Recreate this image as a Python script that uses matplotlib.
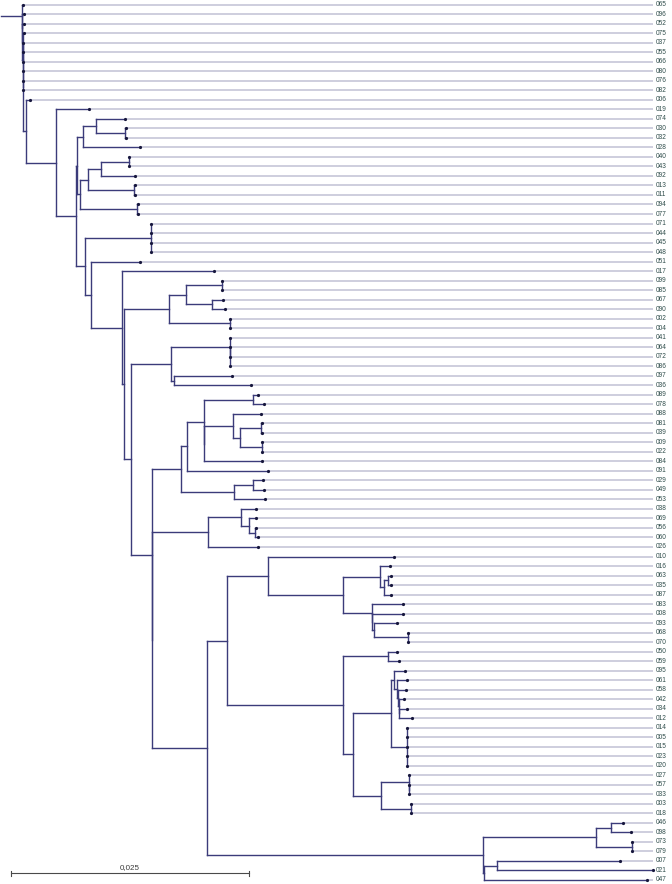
import re
import matplotlib
matplotlib.use("Agg")
import matplotlib.pyplot as plt
from matplotlib.collections import LineCollection
import matplotlib.transforms as mtransforms

# ---------------- data: tree in Newick pieces (branch lengths in substitutions/site) -------------
ROOT_CLADE = "(065:0.00009,(096:0.00016,(052:0.00016,(075:0.00012,(037:0,055:0,066:0,080:0,076:0,082:0,<N1>:0.00032):0.00001):0.00001):0.00003):0.00004)"
N1_CLADE = "(006:0.00045,(019:0.00350,(<B>:0.00011,<K85>:0.00098):0.00213):0.00315)"
B_CLADE = ("(((074:0.00305,(030:0.00004,032:0.00004):0.00308):0.00137,028:0.00599):0.00063,"
           "((((040:0.00006,043:0.00006):0.00291,092:0.00354):0.00137,(013:0.00007,011:0.00007):0.00483):0.00084,"
           "(094:0.00007,077:0.00007):0.00599):0.00032)")
K85_CLADE = "((071:0,044:0,045:0,048:0):0.00687,(051:0.00521,(017:0.00970,(<N169>:0.00473,<F>:0.00070):0.00024):0.00326):0.00057)"
N169_CLADE = "(((099:0.00006,085:0.00006):0.00375,(067:0.00116,090:0.00140):0.00273):0.00179,(002:0.00003,004:0.00003):0.00638)"
F_CLADE = "(((041:0,(064:0,072:0,086:0):0):0.00617,(097:0.00612,036:0.00806):0.00032):0.00423,(<N181>:0.00301,<G1>:0):0.00227)"
N181_CLADE = ("((((089:0.00059,078:0.00119):0.00512,((088:0.00288,((081:0.00007,039:0.00007):0.00221,"
              "(009:0.00006,022:0.00006):0.00228):0.00070):0.00308,084:0.00612):0):0.00182,091:0.00851):0.00060,"
              "((029:0.00099,049:0.00116):0.00203,053:0.00326):0.00557)")
G1_CLADE = "(((038:0.00161,(069:0.00070,(056:0.00002,060:0.00025):0.00063):0.00090):0.00347,026:0.00525):0.00582,(<N226>:0.00210,<M>:0.02899):0.00571)"
N226_CLADE = ("((010:0.01330,((016:0.00105,((063:0.00035,035:0.00035):0.00036,087:0.00067):0.00045):0.00386,"
              "(083:0.00332,(008:0.00332,(093:0.00242,(068:0.00003,070:0.00003):0.00354):0.00027):0):0.00298):0.00794):0.00431,"
              "((050:0.00095,059:0.00119):0.00473,<N353>:0.00111):0.01218)")
N353_CLADE = ("(((095:0.00116,(061:0.00105,(058:0.00081,(042:0.00056,(034:0.00078,012:0.00130):0.00003):0.00007):0.00017):0.00028):0.00035,"
              "(014:0,005:0,015:0,023:0,020:0):0.00174):0.00393,"
              "((027:0,(057:0,033:0):0):0.00294,(003:0.00003,018:0.00003):0.00312):0.00291)")
M_CLADE = "(((046:0.00132,098:0.00213):0.00158,(073:0.00003,079:0.00003):0.00381):0.01187,((007:0.01295,021:0.01645):0.00133,047:0.01715):0.00014)"

ROOT_STUB = 0.00218
SCALE_VALUE = 0.025
SCALE_LABEL = "0,025"

# ---------------- assemble & parse -------------
pieces = {"N1": N1_CLADE, "B": B_CLADE, "K85": K85_CLADE, "N169": N169_CLADE, "F": F_CLADE,
          "N181": N181_CLADE, "G1": G1_CLADE, "N226": N226_CLADE, "N353": N353_CLADE, "M": M_CLADE}
newick = ROOT_CLADE
for _ in range(20):
    for k, v in pieces.items():
        newick = newick.replace("<" + k + ">", v)
newick += ";"


def parse(s):
    pos = 0

    def node():
        nonlocal pos
        children = []
        if s[pos] == "(":
            pos += 1
            while True:
                children.append(node())
                if s[pos] == ",":
                    pos += 1
                    continue
                if s[pos] == ")":
                    pos += 1
                    break
                raise ValueError("bad newick at %d: %r" % (pos, s[pos - 10:pos + 10]))
        m = re.match(r"[^:,();]*", s[pos:])
        name = m.group(0)
        pos += len(name)
        length = 0.0
        if pos < len(s) and s[pos] == ":":
            pos += 1
            m = re.match(r"[0-9.eE+-]+", s[pos:])
            length = float(m.group(0))
            pos += len(m.group(0))
        return {"name": name, "length": length, "children": children}

    return node()


tree = parse(newick)
leaves = []


def layout(n, depth):
    n["x"] = depth
    if not n["children"]:
        n["y"] = len(leaves)
        leaves.append(n)
    else:
        for c in n["children"]:
            layout(c, depth + c["length"])
        n["y"] = (n["children"][0]["y"] + n["children"][-1]["y"]) / 2.0


layout(tree, 0.0)

# ---------------- figure -------------
W, H, DPI = 672, 884, 100
PX_PER_UNIT = 9520.0
ROOT_PX = 21.8
ROW0_PX, ROW_PX = 4.7, 9.514

fig = plt.figure(figsize=(W / DPI, H / DPI), dpi=DPI)
ax = fig.add_axes([0, 0, 1, 1])
ax.set_xlim(-ROOT_PX / PX_PER_UNIT, (W - ROOT_PX) / PX_PER_UNIT)
ax.set_ylim((H - ROW0_PX) / ROW_PX, -ROW0_PX / ROW_PX)
ax.axis("off")

BRANCH = "#3b3b7a"
GRAY = "#c3c3d6"
DOT = "#17173d"
LABEL = "#2f4d4b"

x_end = (653.5 - ROOT_PX) / PX_PER_UNIT
x_lab = (655.5 - ROOT_PX) / PX_PER_UNIT

gray_segs = []
for lf in leaves:
    if lf["x"] < x_end:
        gray_segs.append([(lf["x"], lf["y"]), (x_end, lf["y"])])
ax.add_collection(LineCollection(gray_segs, colors=GRAY, linewidths=1.15, zorder=1))

segs = []


def collect(n):
    for c in n["children"]:
        segs.append([(n["x"], c["y"]), (c["x"], c["y"])])
        collect(c)
    if n["children"]:
        segs.append([(n["x"], n["children"][0]["y"]), (n["x"], n["children"][-1]["y"])])


collect(tree)
segs.append([(-ROOT_STUB, tree["y"]), (0.0, tree["y"])])
ax.add_collection(LineCollection(segs, colors=BRANCH, linewidths=1.0, zorder=2, capstyle="projecting"))

ax.plot([lf["x"] for lf in leaves], [lf["y"] for lf in leaves], "o", ms=2.3, color=DOT,
        mec=DOT, mew=0, zorder=3)

for lf in leaves:
    ax.text(x_lab, lf["y"], lf["name"], fontsize=4.7, family="Liberation Sans", color=LABEL,
            va="center", ha="left", zorder=4)

# scale bar
tr = mtransforms.blended_transform_factory(ax.transData, ax.transAxes)
sb_x0 = (10.7 - ROOT_PX) / PX_PER_UNIT
sb_y = 1 - 873.3 / H
tick = 2.5 / H
ax.plot([sb_x0, sb_x0 + SCALE_VALUE], [sb_y, sb_y], color="#4a4a4a", lw=0.8, transform=tr)
for xx in (sb_x0, sb_x0 + SCALE_VALUE):
    ax.plot([xx, xx], [sb_y - tick, sb_y + tick], color="#4a4a4a", lw=0.8, transform=tr)
ax.text(sb_x0 + SCALE_VALUE / 2, sb_y + 2.5 / H, SCALE_LABEL, transform=tr, ha="center", va="bottom",
        fontsize=5.8, family="Liberation Sans", color="#3a3a3a")

fig.savefig("out.png", dpi=DPI, facecolor="white")
